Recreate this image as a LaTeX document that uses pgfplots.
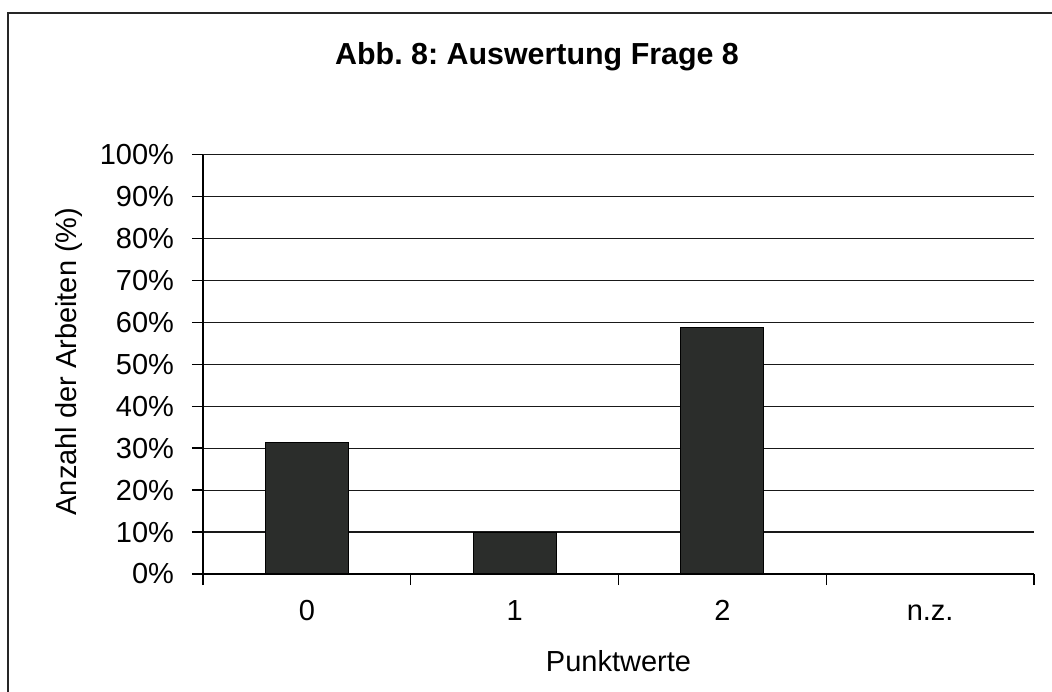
\documentclass[border=0pt]{standalone}
\usepackage{fontspec}
\setmainfont{Liberation Sans}
\usepackage{pgfplots}
\pgfplotsset{compat=1.18}
\definecolor{barfill}{RGB}{43,45,43}
\frenchspacing
\begin{document}
\begin{tikzpicture}
\path[use as bounding box] (-101.5pt,-58.5pt) rectangle (424.5pt,287pt);
\begin{axis}[
  at={(0pt,0pt)}, anchor=south west,
  scale only axis, width=415.5pt, height=209.75pt,
  xmin=-0.5, xmax=3.5, ymin=0, ymax=100,
  axis lines=left, axis line style={-, line width=0.7pt, black},
  tick align=outside, major tick length=5.5pt,
  tick style={line width=0.7pt, black},
  xtick={-0.5,0.5,1.5,2.5,3.5},
  x tick label as interval,
  xticklabels={0,1,2,n.z.},
  ytick={0,10,...,100},
  yticklabels={0\%,10\%,20\%,30\%,40\%,50\%,60\%,70\%,80\%,90\%,100\%},
  /pgf/number format/assume math mode=true,
  ymajorgrids, major grid style={line width=0.6pt, black!90},
  tick label style={font=\fontsize{14.5}{17}\selectfont},
  xticklabel style={text height=10.3pt, text depth=0pt, anchor=north, yshift=-4pt},
  yticklabel style={xshift=-5.5pt},
  label style={font=\fontsize{14.5}{17}\selectfont},
  xlabel={Punktwerte},
  xlabel style={at={(axis description cs:0.5,-0.2329)}, anchor=base},
  ylabel={Anzahl der Arbeiten (\%)},
  ylabel style={at={(axis description cs:-0.1613,0.5066)}, anchor=center},
  title={\textbf{Abb. 8: Auswertung Frage 8}},
  title style={font=\fontsize{15.2}{18}\selectfont, at={(axis description cs:0.402,1.187)}, anchor=base},
  ybar, bar width=41.5pt,
]
\addplot[fill=barfill, draw=black, line width=0.6pt] coordinates {(0,31.4) (1,9.8) (2,58.8) (3,0)};
\end{axis}
\draw[line width=1.2pt, black!85] (-97.5pt,-70pt) -- (-97.5pt,280.5pt) -- (440pt,280.5pt);
\end{tikzpicture}
\end{document}
